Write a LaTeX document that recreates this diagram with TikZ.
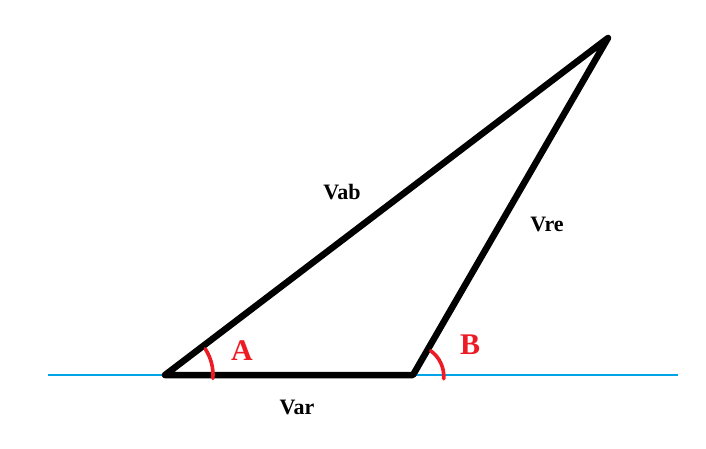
\documentclass[tikz,border=0pt]{standalone}
\usepackage{fontspec}
\setmainfont{Liberation Serif}
\begin{document}
\begin{tikzpicture}[x=1pt,y=-1pt,
  vlabel/.style={font=\fontsize{22}{24}\selectfont\bfseries, text=black, inner sep=0pt},
  anglabel/.style={font=\fontsize{30}{32}\selectfont\bfseries, text={rgb,255:red,237;green,28;blue,36}, inner sep=0pt},
  side/.style={line width=6.5pt, black, line cap=round, line join=round},
  base/.style={line width=2.6pt, color={rgb,255:red,0;green,162;blue,232}},
  angarc/.style={line width=3.6pt, color={rgb,255:red,237;green,28;blue,36}, line cap=round}]
\useasboundingbox (0,0) rectangle (706,449);
\coordinate (l) at (48,375);
\coordinate (r) at (678,375);
\coordinate (a) at (165,375);
\coordinate (b) at (413,375);
\coordinate (c) at (608,38);
\draw[base] (l) -- (r);
\draw[side] (a) -- (b) -- (c) -- cycle;
\draw[angarc] ([shift={(-33:48)}]a) arc[start angle=-33, end angle=4, radius=48];
\draw[angarc] ([shift={(-54:30)}]b) arc[start angle=-54, end angle=4, radius=32];
\node[anglabel] (la) at (242,351) {A};
\node[anglabel] (lb) at (470,345) {B};
\node[vlabel] (var) at (297,407) {Var};
\node[vlabel] (vab) at (342,192) {Vab};
\node[vlabel] (vre) at (547,224) {Vre};
\end{tikzpicture}
\end{document}
